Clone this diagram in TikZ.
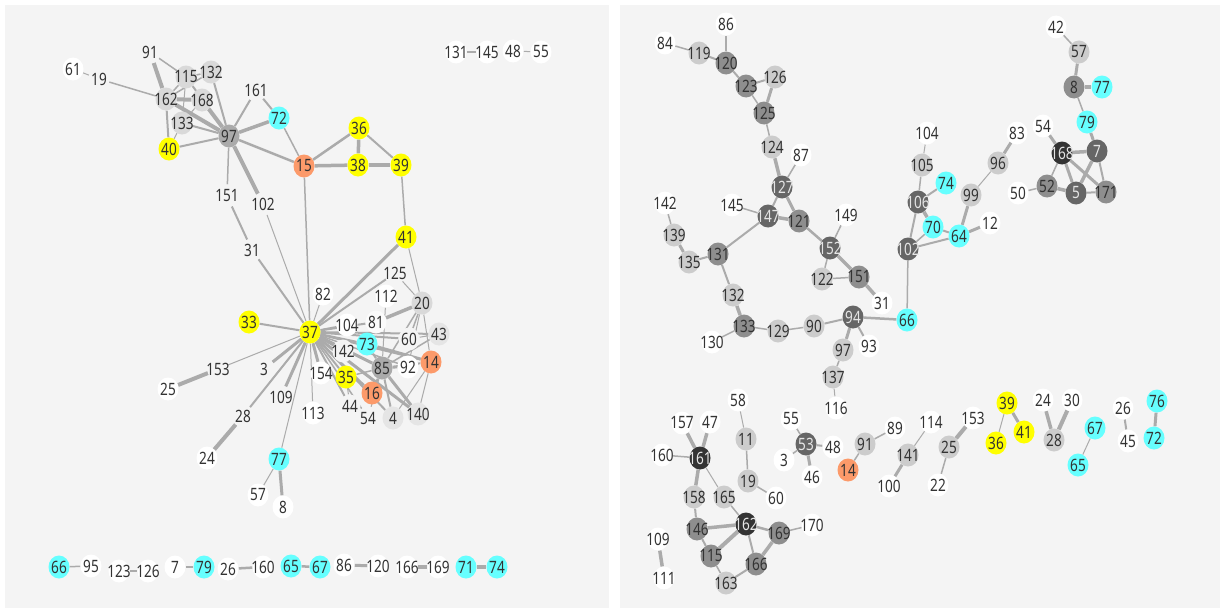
\documentclass[tikz,border=0pt]{standalone}
\usepackage{fontspec}
\setmainfont{Noto Sans}[FakeStretch=0.8]
\usetikzlibrary{shapes.geometric}
\pgfdeclarelayer{bgpanel}\pgfdeclarelayer{edges}
\pgfsetlayers{bgpanel,edges,main}
\definecolor{panel}{HTML}{F4F4F4}
\definecolor{edgec}{HTML}{ABABAB}
\definecolor{txt}{HTML}{333333}
\definecolor{ylw}{HTML}{FFFF00}
\definecolor{cyn}{HTML}{66FFFF}
\definecolor{org}{HTML}{FC9A6A}
\definecolor{lgr}{HTML}{D9D9D9}
\definecolor{mgr}{HTML}{AAAAAA}
\definecolor{rlg}{HTML}{CCCCCC}
\definecolor{rmg}{HTML}{8E8E8E}
\definecolor{rdg}{HTML}{666666}
\definecolor{rddg}{HTML}{333333}
\newcommand\nn[5]{\node[nd,#4] (#1) at (#2,#3) {\makebox[0pt]{#5}};}
\newcommand\ee[3]{\draw[ed=#1] (#2) -- (#3);}
\begin{document}
\begin{tikzpicture}[x=1pt,y=-1pt,
  nd/.style={ellipse,minimum width=21pt,minimum height=23pt,inner sep=0pt,text=txt,font=\fontsize{17}{20}\selectfont},
  wn/.style={fill=white},
  bn/.style={fill=panel},
  wl/.style={fill=white!60!panel},
  lg/.style={fill=lgr},
  lgl/.style={fill=lgr!55!panel},
  mg/.style={fill=mgr},
  yn/.style={fill=ylw},
  cn/.style={fill=cyn},
  on/.style={fill=org},
  rl/.style={fill=rlg},
  rm/.style={fill=rmg},
  rd/.style={fill=rdg,text=white!90!black},
  rdd/.style={fill=rddg,text=white!90!black},
  ed/.style={draw=edgec,line width=#1},
  ed/.default=1.5]
\useasboundingbox (0,0) rectangle (1222,610);
\begin{pgfonlayer}{bgpanel}
\fill[white] (0,0) rectangle (1222,610);
\fill[panel] (5,5) rectangle (609,608);
\fill[panel] (620,5) rectangle (1220,608);
\end{pgfonlayer}
% ---------------- left panel nodes
\nn{L61}{73}{69}{wn}{61}
\nn{L19}{99}{79}{bn}{19}
\nn{L91}{150}{52}{bn}{91}
\nn{L115}{186}{77}{lg}{115}
\nn{L132}{211}{72}{lg}{132}
\nn{L162}{166}{99}{lg}{162}
\nn{L168}{202}{100}{lg}{168}
\nn{L133}{182}{123}{lg}{133}
\nn{L40}{169}{149}{yn}{40}
\nn{L97}{229}{136}{mg}{97}
\nn{L161}{256}{90}{bn}{161}
\nn{L72}{279}{118}{cn}{72}
\nn{L15}{304}{166}{on}{15}
\nn{L36}{359}{128}{yn}{36}
\nn{L38}{358}{165}{yn}{38}
\nn{L39}{401}{165}{yn}{39}
\nn{L151}{227}{196}{bn}{151}
\nn{L102}{263}{204}{bn}{102}
\nn{L31}{252}{250}{bn}{31}
\nn{L41}{406}{237}{yn}{41}
\nn{L125}{395}{273}{bn}{125}
\nn{L82}{323}{294}{wn}{82}
\nn{L112}{386}{296}{wn}{112}
\nn{L20}{422}{303}{lg}{20}
\nn{L33}{249}{322}{yn}{33}
\nn{L37}{310}{332}{yn}{37}
\nn{L104}{347}{325}{wn}{104}
\nn{L81}{376}{322}{wl}{81}
\nn{L43}{439}{334}{lgl}{43}
\nn{L60}{409}{339}{bn}{60}
\nn{L73}{367}{344}{cn}{73}
\nn{L142}{343}{351}{bn}{142}
\nn{L14}{431}{362}{on}{14}
\nn{L85}{382}{368}{mg}{85}
\nn{L92}{408}{367}{wn}{92}
\nn{L3}{264}{369}{bn}{3}
\nn{L154}{321}{373}{wn}{154}
\nn{L35}{346}{377}{yn}{35}
\nn{L16}{372}{393}{on}{16}
\nn{L109}{281}{397}{bn}{109}
\nn{L44}{350}{406}{bn}{44}
\nn{L113}{313}{413}{wn}{113}
\nn{L28}{243}{416}{bn}{28}
\nn{L54}{368}{418}{bn}{54}
\nn{L4}{393}{418}{lgl}{4}
\nn{L140}{418}{414}{lgl}{140}
\nn{L153}{218}{369}{bn}{153}
\nn{L25}{168}{389}{wn}{25}
\nn{L24}{207}{458}{wn}{24}
\nn{L77}{279}{459}{cn}{77}
\nn{L57}{258}{495}{wn}{57}
\nn{L8}{283}{507}{wn}{8}
\nn{L131}{456}{52}{wn}{131}
\nn{L145}{487}{52}{wn}{145}
\nn{L48}{513}{51}{wn}{48}
\nn{L55}{541}{52}{wn}{55}
\nn{L66}{59}{567}{cn}{66}
\nn{L95}{91}{566}{wn}{95}
\nn{L123}{119}{571}{wn}{123}
\nn{L126}{148}{571}{wn}{126}
\nn{L7}{175}{567}{wn}{7}
\nn{L79}{204}{567}{cn}{79}
\nn{L26}{228}{569}{wn}{26}
\nn{L160}{263}{567}{wn}{160}
\nn{L65}{291}{566}{cn}{65}
\nn{L67}{320}{567}{cn}{67}
\nn{L86}{344}{565}{wn}{86}
\nn{L120}{378}{566}{wn}{120}
\nn{L166}{407}{567}{wn}{166}
\nn{L169}{438}{567}{wn}{169}
\nn{L71}{466}{567}{cn}{71}
\nn{L74}{497}{567}{cn}{74}
% ---------------- right panel nodes
\nn{R86}{726}{24}{wn}{86}
\nn{R84}{665}{43}{wn}{84}
\nn{R119}{699}{53}{rl}{119}
\nn{R120}{726}{63}{rm}{120}
\nn{R123}{746}{86}{rm}{123}
\nn{R126}{775}{77}{rl}{126}
\nn{R125}{764}{113}{rm}{125}
\nn{R124}{772}{147}{rl}{124}
\nn{R87}{801}{155}{wn}{87}
\nn{R127}{782}{187}{rd}{127}
\nn{R142}{665}{203}{wn}{142}
\nn{R145}{732}{205}{wn}{145}
\nn{R147}{768}{216}{rd}{147}
\nn{R121}{799}{221}{rm}{121}
\nn{R149}{846}{215}{wn}{149}
\nn{R139}{674}{235}{rl}{139}
\nn{R131}{718}{254}{rm}{131}
\nn{R135}{689}{262}{rl}{135}
\nn{R152}{830}{248}{rd}{152}
\nn{R122}{822}{279}{rl}{122}
\nn{R151}{859}{277}{rm}{151}
\nn{R132}{733}{295}{rl}{132}
\nn{R31}{882}{303}{wn}{31}
\nn{R133}{744}{326}{rm}{133}
\nn{R129}{778}{331}{rl}{129}
\nn{R90}{814}{326}{rl}{90}
\nn{R94}{853}{317}{rd}{94}
\nn{R66}{907}{320}{cn}{66}
\nn{R130}{712}{342}{wn}{130}
\nn{R97}{843}{350}{rl}{97}
\nn{R93}{869}{346}{wn}{93}
\nn{R137}{833}{377}{rl}{137}
\nn{R116}{836}{408}{wn}{116}
\nn{R104}{927}{133}{wn}{104}
\nn{R105}{922}{165}{rl}{105}
\nn{R106}{918}{202}{rd}{106}
\nn{R74}{946}{183}{cn}{74}
\nn{R70}{933}{227}{cn}{70}
\nn{R102}{908}{249}{rd}{102}
\nn{R99}{971}{195}{rl}{99}
\nn{R96}{998}{163}{rl}{96}
\nn{R83}{1017}{133}{wn}{83}
\nn{R12}{990}{223}{wn}{12}
\nn{R64}{959}{236}{cn}{64}
\nn{R42}{1056}{27}{wn}{42}
\nn{R57}{1079}{52}{rl}{57}
\nn{R8}{1074}{87}{rm}{8}
\nn{R77}{1102}{87}{cn}{77}
\nn{R79}{1087}{122}{cn}{79}
\nn{R54}{1043}{126}{wn}{54}
\nn{R168}{1062}{153}{rdd}{168}
\nn{R7}{1097}{151}{rd}{7}
\nn{R52}{1047}{186}{rm}{52}
\nn{R5}{1076}{193}{rd}{5}
\nn{R171}{1106}{192}{rm}{171}
\nn{R50}{1018}{193}{wn}{50}
\nn{R58}{738}{400}{wn}{58}
\nn{R157}{682}{423}{wn}{157}
\nn{R47}{710}{422}{wn}{47}
\nn{R11}{746}{439}{rl}{11}
\nn{R160}{662}{455}{wn}{160}
\nn{R161}{700}{458}{rdd}{161}
\nn{R19}{748}{481}{rl}{19}
\nn{R158}{694}{497}{rl}{158}
\nn{R165}{724}{497}{rl}{165}
\nn{R60}{776}{498}{wn}{60}
\nn{R162}{746}{524}{rdd}{162}
\nn{R146}{697}{529}{rm}{146}
\nn{R169}{779}{533}{rm}{169}
\nn{R170}{812}{525}{wn}{170}
\nn{R109}{658}{539}{wn}{109}
\nn{R115}{711}{556}{rm}{115}
\nn{R166}{756}{564}{rm}{166}
\nn{R111}{664}{578}{wn}{111}
\nn{R163}{726}{583}{rl}{163}
\nn{R55}{791}{419}{wn}{55}
\nn{R53}{806}{444}{rd}{53}
\nn{R48}{833}{447}{wn}{48}
\nn{R3}{784}{460}{wn}{3}
\nn{R46}{812}{477}{wn}{46}
\nn{R91}{865}{444}{rl}{91}
\nn{R89}{895}{428}{wn}{89}
\nn{R14}{848}{470}{on}{14}
\nn{R114}{931}{422}{wn}{114}
\nn{R141}{908}{455}{rl}{141}
\nn{R100}{889}{486}{wn}{100}
\nn{R153}{973}{418}{wn}{153}
\nn{R25}{949}{447}{rl}{25}
\nn{R22}{938}{485}{wn}{22}
\nn{R39}{1007}{403}{yn}{39}
\nn{R41}{1024}{432}{yn}{41}
\nn{R36}{996}{443}{yn}{36}
\nn{R24}{1043}{400}{wn}{24}
\nn{R30}{1072}{400}{wn}{30}
\nn{R28}{1054}{440}{rl}{28}
\nn{R67}{1095}{428}{cn}{67}
\nn{R65}{1078}{465}{cn}{65}
\nn{R26}{1123}{408}{wn}{26}
\nn{R45}{1128}{441}{wn}{45}
\nn{R76}{1157}{401}{cn}{76}
\nn{R72}{1154}{438}{cn}{72}
% ---------------- edges
\begin{pgfonlayer}{edges}
\ee{1}{L61}{L19}
\ee{1.5}{L19}{L162}
\ee{4}{L91}{L162}
\ee{1.5}{L91}{L115}
\ee{2}{L162}{L40}
\ee{4}{L162}{L168}
\ee{4}{L162}{L97}
\ee{1.5}{L162}{L115}
\ee{1.5}{L162}{L132}
\ee{1.5}{L115}{L132}
\ee{2}{L115}{L97}
\ee{2}{L132}{L97}
\ee{4}{L168}{L97}
\ee{2}{L133}{L97}
\ee{1}{L115}{L133}
\ee{1}{L168}{L133}
\ee{1}{L133}{L40}
\ee{2}{L40}{L97}
\ee{2}{L97}{L161}
\ee{3.5}{L97}{L72}
\ee{2.5}{L97}{L15}
\ee{1.5}{L97}{L151}
\ee{4}{L97}{L102}
\ee{2}{L161}{L72}
\ee{1.5}{L72}{L15}
\ee{3.5}{L15}{L38}
\ee{2.5}{L15}{L36}
\ee{1.5}{L15}{L37}
\ee{3.5}{L36}{L38}
\ee{2}{L36}{L39}
\ee{3.5}{L38}{L39}
\ee{1.5}{L39}{L41}
\ee{2}{L151}{L31}
\ee{2}{L31}{L37}
\ee{1}{L102}{L37}
\ee{3}{L41}{L37}
\ee{1}{L41}{L20}
\ee{1}{L125}{L20}
\ee{2}{L125}{L37}
\ee{1}{L112}{L85}
\ee{1}{L82}{L37}
\ee{3.5}{L81}{L20}
\ee{1.5}{L20}{L60}
\ee{1.5}{L20}{L85}
\ee{1}{L20}{L14}
\ee{1}{L20}{L92}
\ee{2}{L37}{L104}
\ee{2}{L37}{L81}
\ee{2}{L37}{L73}
\ee{2}{L37}{L60}
\ee{2}{L37}{L43}
\ee{2}{L37}{L142}
\ee{3}{L37}{L85}
\ee{2}{L37}{L14}
\ee{1.5}{L37}{L92}
\ee{3}{L37}{L154}
\ee{2}{L37}{L35}
\ee{2}{L37}{L16}
\ee{2}{L37}{L44}
\ee{1.5}{L37}{L54}
\ee{2}{L37}{L4}
\ee{3}{L37}{L140}
\ee{1}{L37}{L113}
\ee{3}{L37}{L109}
\ee{3}{L37}{L3}
\ee{2}{L37}{L28}
\ee{1}{L37}{L77}
\ee{1}{L37}{L153}
\ee{2}{L37}{L33}
\ee{1.5}{L43}{L85}
\ee{1}{L43}{L60}
\ee{2}{L73}{L85}
\ee{3}{L73}{L14}
\ee{2}{L85}{L92}
\ee{2}{L85}{L14}
\ee{2}{L85}{L16}
\ee{1.5}{L85}{L35}
\ee{2}{L85}{L4}
\ee{3}{L85}{L140}
\ee{1}{L85}{L54}
\ee{1}{L14}{L4}
\ee{1}{L14}{L140}
\ee{1}{L35}{L44}
\ee{4}{L153}{L25}
\ee{4}{L28}{L24}
\ee{1}{L77}{L57}
\ee{3}{L77}{L8}
\ee{1.5}{L131}{L145}
\ee{1}{L48}{L55}
\ee{1.5}{L66}{L95}
\ee{1.5}{L123}{L126}
\ee{1.5}{L7}{L79}
\ee{2.5}{L26}{L160}
\ee{2.5}{L65}{L67}
\ee{3}{L86}{L120}
\ee{3.5}{L166}{L169}
\ee{4}{L71}{L74}
% right
\ee{1.5}{R84}{R119}
\ee{2}{R119}{R120}
\ee{2}{R86}{R120}
\ee{2}{R120}{R123}
\ee{2}{R123}{R126}
\ee{1.5}{R123}{R125}
\ee{3}{R126}{R125}
\ee{1.5}{R125}{R124}
\ee{3.5}{R124}{R127}
\ee{1.5}{R87}{R127}
\ee{2}{R127}{R147}
\ee{3}{R127}{R121}
\ee{3.5}{R147}{R121}
\ee{1.5}{R145}{R147}
\ee{2}{R147}{R131}
\ee{1.5}{R142}{R139}
\ee{3}{R139}{R135}
\ee{2}{R135}{R131}
\ee{2}{R131}{R132}
\ee{3.5}{R132}{R133}
\ee{1.5}{R130}{R133}
\ee{1.5}{R133}{R129}
\ee{1.5}{R129}{R90}
\ee{2}{R90}{R94}
\ee{2.5}{R94}{R66}
\ee{3}{R94}{R97}
\ee{2}{R94}{R93}
\ee{1.5}{R97}{R137}
\ee{1}{R137}{R116}
\ee{2.5}{R121}{R152}
\ee{1.5}{R149}{R152}
\ee{1.5}{R152}{R122}
\ee{3.5}{R152}{R151}
\ee{1.5}{R122}{R151}
\ee{3.5}{R151}{R31}
\ee{1}{R104}{R105}
\ee{1.5}{R105}{R106}
\ee{2}{R106}{R74}
\ee{3.5}{R106}{R70}
\ee{2}{R106}{R102}
\ee{1.5}{R102}{R70}
\ee{2}{R102}{R64}
\ee{2}{R70}{R64}
\ee{3}{R64}{R99}
\ee{3}{R64}{R12}
\ee{1}{R99}{R96}
\ee{3}{R96}{R83}
\ee{1.5}{R102}{R66}
\ee{1.5}{R42}{R57}
\ee{3}{R57}{R8}
\ee{3.5}{R8}{R77}
\ee{1.5}{R8}{R79}
\ee{3}{R79}{R7}
\ee{3}{R54}{R168}
\ee{3.5}{R168}{R7}
\ee{1.5}{R168}{R52}
\ee{3}{R168}{R5}
\ee{3}{R168}{R171}
\ee{3.5}{R7}{R5}
\ee{2}{R7}{R171}
\ee{3.5}{R52}{R5}
\ee{2}{R5}{R171}
\ee{1.5}{R50}{R52}
\ee{3.5}{R157}{R161}
\ee{3.5}{R47}{R161}
\ee{1.5}{R160}{R161}
\ee{3.5}{R161}{R158}
\ee{1}{R161}{R165}
\ee{1}{R58}{R11}
\ee{1.5}{R11}{R19}
\ee{1.5}{R19}{R60}
\ee{1.5}{R165}{R162}
\ee{2}{R158}{R146}
\ee{3.5}{R146}{R162}
\ee{2}{R146}{R115}
\ee{4}{R115}{R162}
\ee{1.5}{R115}{R163}
\ee{2}{R163}{R166}
\ee{2}{R162}{R166}
\ee{2.5}{R162}{R169}
\ee{3.5}{R169}{R166}
\ee{1.5}{R169}{R170}
\ee{3.5}{R109}{R111}
\ee{1.5}{R55}{R53}
\ee{1.5}{R3}{R53}
\ee{2}{R53}{R48}
\ee{3}{R53}{R46}
\ee{1.5}{R14}{R91}
\ee{1.5}{R91}{R89}
\ee{1}{R114}{R141}
\ee{3}{R141}{R100}
\ee{4}{R153}{R25}
\ee{1.5}{R25}{R22}
\ee{1}{R39}{R36}
\ee{3}{R39}{R41}
\ee{3.5}{R24}{R28}
\ee{4}{R30}{R28}
\ee{1}{R67}{R65}
\ee{2}{R26}{R45}
\ee{3}{R76}{R72}
\end{pgfonlayer}
\end{tikzpicture}
\end{document}
